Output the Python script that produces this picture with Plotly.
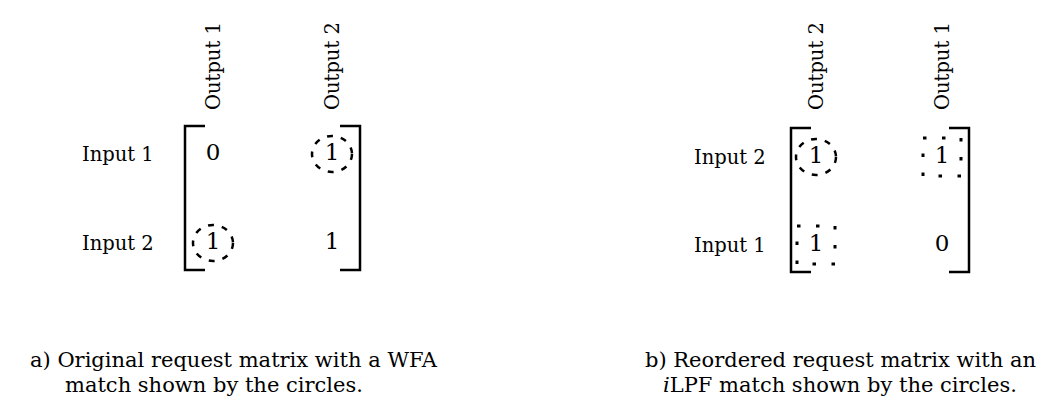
import plotly.graph_objects as go

# ---------------- data ----------------
left_rows = ["Input 1", "Input 2"]
left_cols = ["Output 1", "Output 2"]
left_values = [[0, 1], [1, 1]]
left_marks = [[None, "circle"], ["circle", None]]

right_rows = ["Input 2", "Input 1"]
right_cols = ["Output 2", "Output 1"]
right_values = [[1, 1], [1, 0]]
right_marks = [["circle", "box"], ["box", None]]

caption_a = ["a) Original request matrix with a WFA", "match shown by the circles."]
caption_b = ["b) Reordered request matrix with an", "<i>i</i>LPF match shown by the circles."]

# ---------------- layout ----------------
W, H = 1053, 408
FONT = "DejaVu Serif"
FS_LABEL = 19.5
FS_CELL = 23
FS_CAP = 21

panels = [
    dict(rows=left_rows, cols=left_cols, values=left_values, marks=left_marks,
         col_x=[205, 324], row_y=[146, 235], br_l=177, br_r=352, top=118, bottom=262,
         label_right=148, cap=caption_a, cap_x=[20, 55]),
    dict(rows=right_rows, cols=right_cols, values=right_values, marks=right_marks,
         col_x=[808, 934], row_y=[149, 237], br_l=783, br_r=961, top=120, bottom=264,
         label_right=760, cap=caption_b, cap_x=[635, 653]),
]
cap_y = [352, 377]
col_label_bottom = 104
tick = 20
mark_rx, mark_ry = 20, 18
box_half = 19

fig = go.Figure()
shapes = []
annotations = []

for p in panels:
    # cell values
    xs, ys, ts = [], [], []
    for i, row in enumerate(p["values"]):
        for j, v in enumerate(row):
            xs.append(p["col_x"][j])
            ys.append(p["row_y"][i])
            ts.append(str(v))
    fig.add_trace(go.Scatter(x=xs, y=ys, text=ts, mode="text",
                             textfont=dict(family=FONT, size=FS_CELL, color="black"),
                             hoverinfo="skip", showlegend=False))
    # row labels
    for i, lab in enumerate(p["rows"]):
        annotations.append(dict(x=p["label_right"], y=p["row_y"][i], text=lab,
                                xanchor="right", yanchor="middle", showarrow=False,
                                font=dict(family=FONT, size=FS_LABEL, color="black")))
    # column labels (rotated)
    for j, lab in enumerate(p["cols"]):
        annotations.append(dict(x=p["col_x"][j], y=col_label_bottom, text=lab, textangle=-90,
                                xanchor="center", yanchor="bottom", showarrow=False,
                                font=dict(family=FONT, size=FS_LABEL, color="black")))
    # brackets
    l, r, t, b = p["br_l"], p["br_r"], p["top"], p["bottom"]
    shapes.append(dict(type="path", path=f"M {l+tick},{t} L {l},{t} L {l},{b} L {l+tick},{b}",
                       line=dict(color="black", width=2.5)))
    shapes.append(dict(type="path", path=f"M {r-tick},{t} L {r},{t} L {r},{b} L {r-tick},{b}",
                       line=dict(color="black", width=2.5)))
    # match marks
    for i, row in enumerate(p["marks"]):
        for j, m in enumerate(row):
            if m is None:
                continue
            cx, cy = p["col_x"][j], p["row_y"][i]
            if m == "circle":
                shapes.append(dict(type="circle", x0=cx - mark_rx, x1=cx + mark_rx,
                                   y0=cy - mark_ry, y1=cy + mark_ry,
                                   line=dict(color="black", width=2.5, dash="6px,8px")))
            else:
                shapes.append(dict(type="rect", x0=cx - box_half, x1=cx + box_half,
                                   y0=cy - box_half, y1=cy + box_half,
                                   line=dict(color="black", width=3, dash="3.5px,15.5px")))
    # captions
    for k, line in enumerate(p["cap"]):
        annotations.append(dict(x=p["cap_x"][k], y=cap_y[k], text=line,
                                xanchor="left", yanchor="middle", showarrow=False,
                                font=dict(family=FONT, size=FS_CAP, color="black")))

fig.update_layout(
    width=W, height=H, margin=dict(l=0, r=0, t=0, b=0),
    paper_bgcolor="white", plot_bgcolor="white",
    xaxis=dict(range=[0, W], visible=False, fixedrange=True),
    yaxis=dict(range=[H, 0], visible=False, fixedrange=True),
    shapes=shapes, annotations=annotations, showlegend=False,
)
fig.write_html("out.html")
